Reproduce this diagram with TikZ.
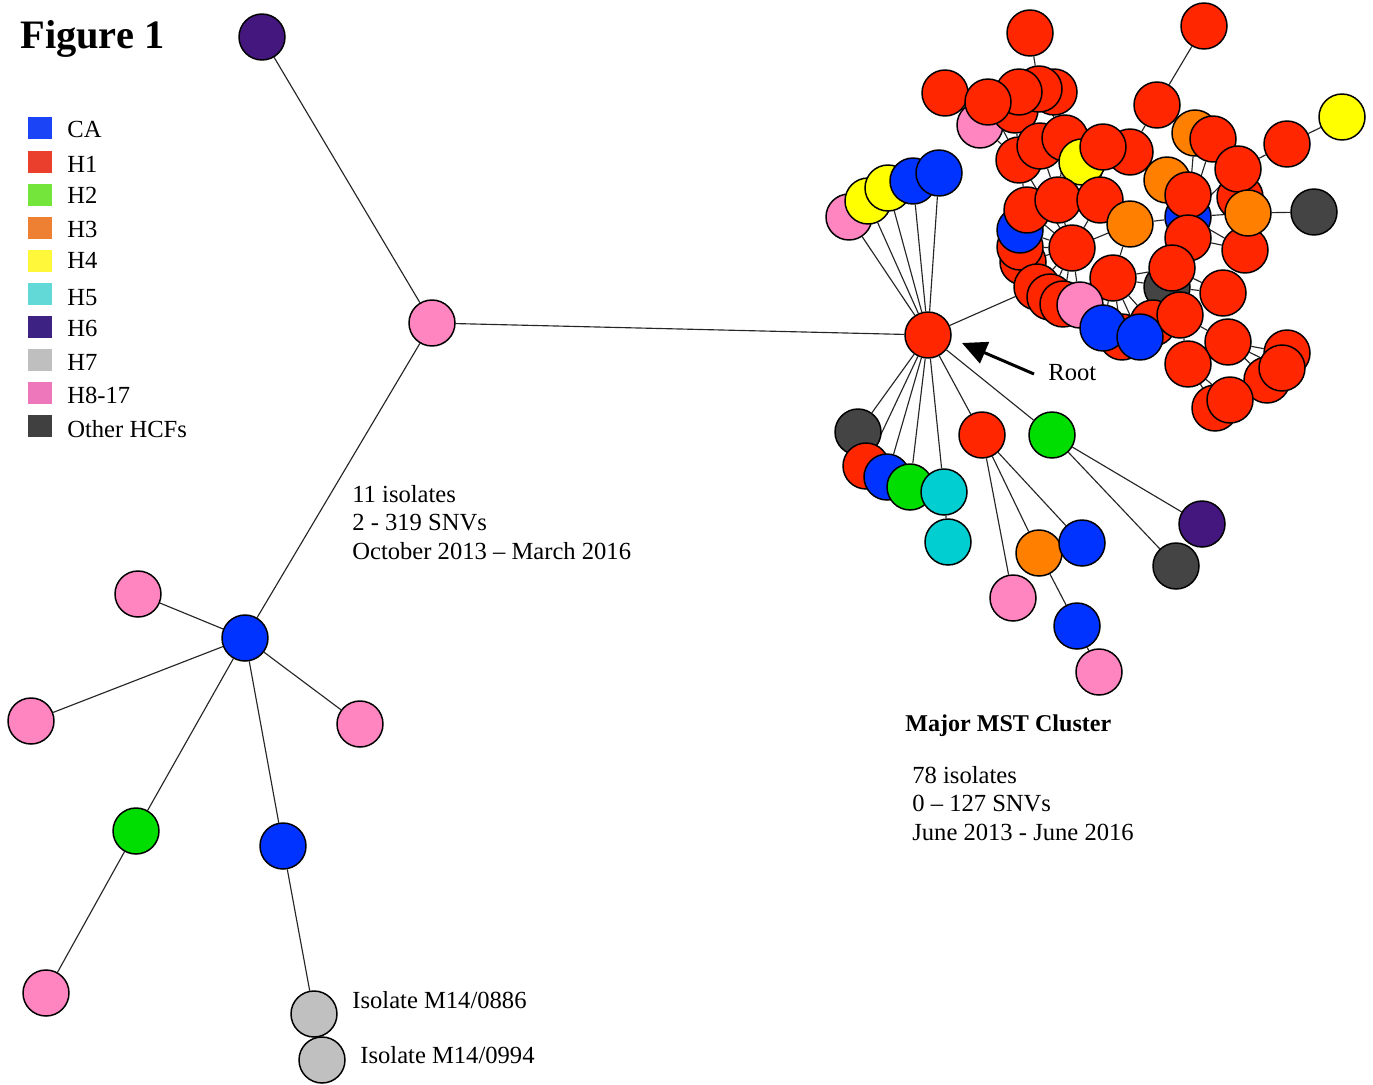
\documentclass[tikz,border=0pt]{standalone}
\usepackage{fontspec}
\setmainfont{Liberation Serif}
\usetikzlibrary{backgrounds,arrows.meta}
\definecolor{cRed}{RGB}{255,38,0}
\definecolor{cBlue}{RGB}{0,51,255}
\definecolor{cGreen}{RGB}{0,221,0}
\definecolor{cOrange}{RGB}{255,128,0}
\definecolor{cYellow}{RGB}{255,255,0}
\definecolor{cCyan}{RGB}{0,206,209}
\definecolor{cPurple}{RGB}{68,23,127}
\definecolor{cDark}{RGB}{68,68,68}
\definecolor{cPink}{RGB}{255,133,192}
\definecolor{cGrey}{RGB}{192,192,192}
\definecolor{lBlue}{RGB}{26,68,245}
\definecolor{lRed}{RGB}{234,63,45}
\definecolor{lGreen}{RGB}{116,230,59}
\definecolor{lOrange}{RGB}{238,128,51}
\definecolor{lYellow}{RGB}{255,248,58}
\definecolor{lCyan}{RGB}{98,217,215}
\definecolor{lPurple}{RGB}{62,34,131}
\definecolor{lGrey}{RGB}{191,191,191}
\definecolor{lPink}{RGB}{238,119,187}
\definecolor{lDark}{RGB}{64,64,64}
\tikzset{
  iso/.style={circle, draw=black, line width=0.85pt, minimum size=0.92cm, inner sep=0pt, fill=#1},
  link/.style={draw=black!85, line width=0.65pt},
  txt/.style={font=\fontsize{14}{16}\selectfont, anchor=base west, inner sep=0pt},
  btxt/.style={font=\fontsize{13.7}{16}\selectfont\bfseries, anchor=base west, inner sep=0pt},
  legsq/.style={minimum width=0.48cm, minimum height=0.44cm, inner sep=0pt, fill=#1}
}
\begin{document}
\begin{tikzpicture}[x=0.02cm, y=-0.02cm]
\useasboundingbox (0,0) rectangle (1373,1085);
% title and legend
\node[font=\fontsize{23}{26}\selectfont\bfseries, anchor=base west, inner sep=0pt] (title) at (20,49) {Figure 1};
\node[legsq=lBlue]   (q1)  at (40,128) {};
\node[legsq=lRed]    (q2)  at (40,162) {};
\node[legsq=lGreen]  (q3)  at (40,195) {};
\node[legsq=lOrange] (q4)  at (40,228) {};
\node[legsq=lYellow] (q5)  at (40,261) {};
\node[legsq=lCyan]   (q6)  at (40,294) {};
\node[legsq=lPurple] (q7)  at (40,327) {};
\node[legsq=lGrey]   (q8)  at (40,360) {};
\node[legsq=lPink]   (q9)  at (40,393) {};
\node[legsq=lDark]   (q10) at (40,426) {};
\node[txt] (t1)  at (67,137) {CA};
\node[txt] (t2)  at (67,172) {H1};
\node[txt] (t3)  at (67,203) {H2};
\node[txt] (t4)  at (67,237) {H3};
\node[txt] (t5)  at (67,268) {H4};
\node[txt] (t6)  at (67,305) {H5};
\node[txt] (t7)  at (67,336) {H6};
\node[txt] (t8)  at (67,370) {H7};
\node[txt] (t9)  at (67,403) {H8-17};
\node[txt] (t10) at (67,437) {Other HCFs};
% text labels
\node[txt] (a1) at (352,502) {11 isolates};
\node[txt] (a2) at (352,530) {2 - 319 SNVs};
\node[txt] (a3) at (352,559) {October 2013 -- March 2016};
\node[txt] (a4) at (352,1008) {Isolate M14/0886};
\node[txt] (a5) at (360,1063) {Isolate M14/0994};
\node[btxt] (b1) at (905,731) {Major MST Cluster};
\node[txt] (b2) at (912,783) {78 isolates};
\node[txt] (b3) at (912,811) {0 -- 127 SNVs};
\node[txt] (b4) at (912,840) {June 2013 - June 2016};
\node[txt] (rt) at (1048,380) {Root};
% left tree
\node[iso=cPurple] (h6top) at (262,37) {};
\node[iso=cPink] (phub) at (432,323) {};
\node[iso=cBlue] (bhub) at (245,638) {};
\node[iso=cPink] (p1) at (138,594) {};
\node[iso=cPink] (p2) at (31,721) {};
\node[iso=cPink] (p3) at (360,724) {};
\node[iso=cGreen] (g1) at (136,831) {};
\node[iso=cPink] (p4) at (46,993) {};
\node[iso=cBlue] (b1n) at (283,846) {};
\node[iso=cGrey] (gr1) at (314,1014) {};
\node[iso=cGrey] (gr2) at (322,1060) {};
% root and fans
\node[iso=cRed] (root) at (928,335) {};
\node[iso=cPink] (f1) at (849,217) {};
\node[iso=cYellow] (f2) at (868,201) {};
\node[iso=cYellow] (f3) at (888,188) {};
\node[iso=cBlue] (f4) at (913,181) {};
\node[iso=cBlue] (f5) at (939,173) {};
\node[iso=cDark] (l1) at (858,432) {};
\node[iso=cRed] (l2) at (866,466) {};
\node[iso=cBlue] (l3) at (887,477) {};
\node[iso=cGreen] (l4) at (910,487) {};
\node[iso=cCyan] (l5) at (944,492) {};
\node[iso=cCyan] (l6) at (948,542) {};
\node[iso=cRed] (m1) at (982,435) {};
\node[iso=cGreen] (m2) at (1052,435) {};
\node[iso=cPurple] (m3) at (1202,524) {};
\node[iso=cDark] (m4) at (1176,566) {};
\node[iso=cOrange] (m5) at (1039,553) {};
\node[iso=cBlue] (m6) at (1082,543) {};
\node[iso=cPink] (m7) at (1013,598) {};
\node[iso=cBlue] (m8) at (1077,626) {};
\node[iso=cPink] (m9) at (1099,672) {};
% dense cluster
\node[iso=cRed] (c1) at (1030,33) {};
\node[iso=cRed] (c2) at (945,93) {};
\node[iso=cPink] (c3) at (980,125) {};
\node[iso=cRed] (c4) at (1015,110) {};
\node[iso=cRed] (c5) at (1054,92) {};
\node[iso=cRed] (c6) at (1039,89) {};
\node[iso=cRed] (c7) at (1019,92) {};
\node[iso=cRed] (c8) at (988,102) {};
\node[iso=cRed] (c9) at (1204,26) {};
\node[iso=cRed] (c10) at (1157,105) {};
\node[iso=cYellow] (c11) at (1342,117) {};
\node[iso=cRed] (c12) at (1287,144) {};
\node[iso=cOrange] (c13) at (1195,133) {};
\node[iso=cRed] (c14) at (1213,139) {};
\node[iso=cRed] (c15) at (1240,197) {};
\node[iso=cRed] (c16) at (1238,169) {};
\node[iso=cRed] (c29) at (1245,250) {};
\node[iso=cOrange] (c17) at (1248,213) {};
\node[iso=cDark] (c18) at (1314,212) {};
\node[iso=cRed] (c19) at (1019,160) {};
\node[iso=cRed] (c20) at (1040,146) {};
\node[iso=cRed] (c21) at (1065,138) {};
\node[iso=cRed] (c22) at (1130,152) {};
\node[iso=cYellow] (c23) at (1082,162) {};
\node[iso=cRed] (c24) at (1103,147) {};
\node[iso=cOrange] (c25) at (1167,180) {};
\node[iso=cBlue] (c26) at (1188,217) {};
\node[iso=cRed] (c27) at (1188,195) {};
\node[iso=cRed] (c28) at (1188,238) {};
\node[iso=cRed] (c32) at (1023,262) {};
\node[iso=cRed] (c31) at (1020,247) {};
\node[iso=cBlue] (c30) at (1020,230) {};
\node[iso=cRed] (c33) at (1027,210) {};
\node[iso=cRed] (c34) at (1058,200) {};
\node[iso=cRed] (c35) at (1100,200) {};
\node[iso=cOrange] (c36) at (1130,224) {};
\node[iso=cRed] (c37) at (1072,248) {};
\node[iso=cRed] (c38) at (1113,278) {};
\node[iso=cDark] (c39) at (1167,287) {};
\node[iso=cRed] (c40) at (1172,268) {};
\node[iso=cRed] (c41) at (1223,293) {};
\node[iso=cRed] (c42) at (1037,287) {};
\node[iso=cRed] (c43) at (1050,297) {};
\node[iso=cRed] (c44) at (1063,304) {};
\node[iso=cPink] (c45) at (1080,305) {};
\node[iso=cRed] (c46) at (1122,337) {};
\node[iso=cRed] (c47) at (1153,323) {};
\node[iso=cBlue] (c48) at (1103,328) {};
\node[iso=cBlue] (c49) at (1140,337) {};
\node[iso=cRed] (c50) at (1180,315) {};
\node[iso=cRed] (c51) at (1228,342) {};
\node[iso=cRed] (c52) at (1188,364) {};
\node[iso=cRed] (c53) at (1287,353) {};
\node[iso=cRed] (c54) at (1267,380) {};
\node[iso=cRed] (c55) at (1282,368) {};
\node[iso=cRed] (c56) at (1215,408) {};
\node[iso=cRed] (c57) at (1230,400) {};
% root arrow
\coordinate (arT) at (1034,374);
\coordinate (arH) at (962,343);
\draw[line width=1.7pt, -{Triangle[length=14pt,width=13pt]}] (arT) -- (arH);
\begin{pgfonlayer}{background}
\path[link] (h6top) -- (phub) (phub) -- (root) (phub) -- (bhub)
  (bhub) -- (p1) (bhub) -- (p2) (bhub) -- (p3) (bhub) -- (g1) (g1) -- (p4)
  (bhub) -- (b1n) (b1n) -- (gr1);
\path[link] (root) -- (f1) (root) -- (f2) (root) -- (f3) (root) -- (f4) (root) -- (f5)
  (root) -- (l1) (root) -- (l2) (root) -- (l3) (root) -- (l4) (root) -- (l5) (l5) -- (l6)
  (root) -- (m1) (root) -- (m2) (m2) -- (m3) (m2) -- (m4)
  (m1) -- (m5) (m1) -- (m6) (m1) -- (m7) (m5) -- (m8) (m8) -- (m9)
  (root) -- (c42);
\path[link] (c1) -- (c6) (c9) -- (c10) (c10) -- (c22) (c11) -- (c12) (c12) -- (c16)
  (c18) -- (c17) (c3) -- (c19) (c4) -- (c19) (c7) -- (c20) (c6) -- (c21) (c5) -- (c21)
  (c8) -- (c19) (c21) -- (c34) (c24) -- (c35) (c20) -- (c34) (c19) -- (c33)
  (c37) -- (c33) (c37) -- (c30) (c37) -- (c31) (c37) -- (c32) (c37) -- (c42)
  (c37) -- (c43) (c37) -- (c44) (c37) -- (c34) (c37) -- (c35) (c37) -- (c36)
  (c37) -- (c19) (c37) -- (c45)
  (c38) -- (c45) (c38) -- (c48) (c38) -- (c46) (c38) -- (c49) (c38) -- (c47)
  (c38) -- (c39) (c38) -- (c40) (c38) -- (c44) (c38) -- (c36)
  (c26) -- (c36) (c26) -- (c25) (c26) -- (c13) (c26) -- (c14) (c26) -- (c16)
  (c26) -- (c17) (c26) -- (c29) (c26) -- (c28) (c26) -- (c40) (c25) -- (c22)
  (c36) -- (c35) (c39) -- (c41) (c40) -- (c41) (c50) -- (c51) (c50) -- (c52)
  (c52) -- (c56) (c52) -- (c57) (c51) -- (c53) (c51) -- (c54) (c51) -- (c55)
  (c47) -- (c50) (c39) -- (c50) (c28) -- (c29);
\end{pgfonlayer}
\end{tikzpicture}
\end{document}
